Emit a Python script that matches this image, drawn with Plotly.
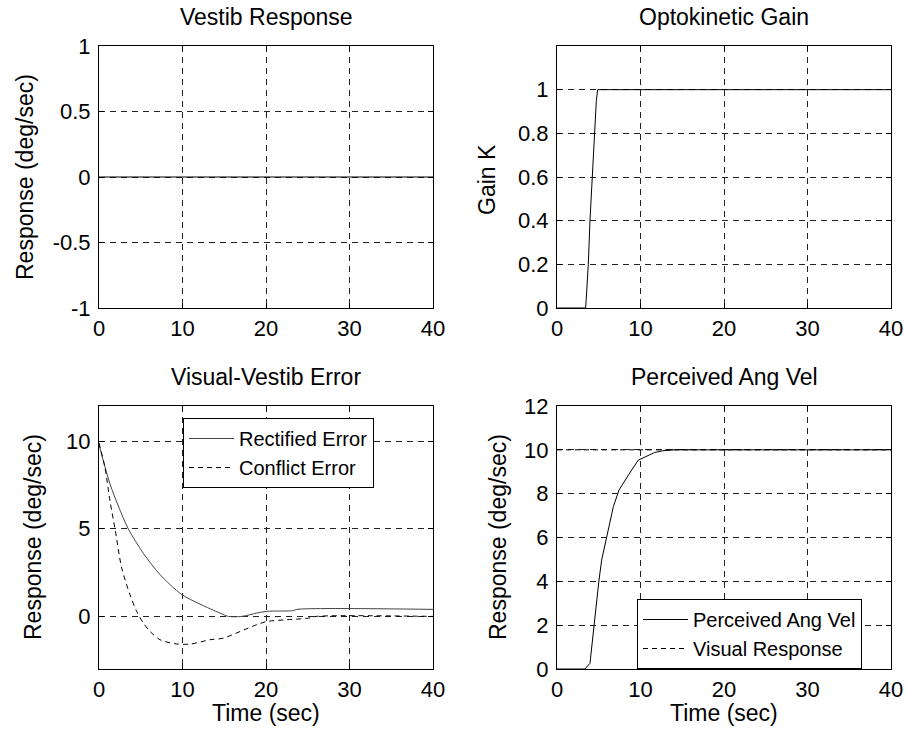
import plotly.graph_objects as go

# ---------------- data ----------------
vestib_t = [0, 40]
vestib_resp = [0, 0]

gain_t = [0, 3.43, 3.5, 3.75, 3.95, 4.23, 4.47, 4.71, 4.87, 40]
gain_k = [0, 0, 0.04, 0.2, 0.4, 0.6, 0.8, 0.95, 1.0, 1.0]

rect_t = [0, 1.32, 2.31, 3.51, 5.31, 7.31, 9.9, 12.1, 14.5, 15.5, 17.1, 18.9, 20.1, 23.3, 23.7, 40]
rect_err = [9.8, 7.55, 6.3, 4.99, 3.6, 2.38, 1.25, 0.7, 0.19, 0.0, 0.0, 0.19, 0.29, 0.33, 0.4, 0.4]

conf_t = [0, 0.72, 1.32, 1.92, 2.72, 3.71, 4.51, 5.31, 6.11, 7.31, 9.1, 10.9, 13.3, 14.9,
          16.9, 18.9, 20.1, 22.5, 25.1, 26, 40]
conf_err = [9.9, 8.47, 6.57, 4.99, 2.76, 1.24, 0.29, -0.38, -0.86, -1.33, -1.56, -1.58, -1.33, -1.24,
            -0.86, -0.47, -0.29, -0.19, -0.1, 0.0, 0.0]

perc_t = [0, 3.35, 3.95, 4.15, 4.43, 4.75, 5.03, 5.35, 5.95, 6.35, 6.75, 7.43, 8.14, 8.94,
          9.74, 11.7, 12.7, 14.1, 40]
perc_vel = [0, 0, 0.26, 1.02, 2.05, 3.15, 4.06, 4.97, 6.04, 6.65, 7.41, 8.17, 8.62, 9.08,
            9.53, 9.88, 9.96, 10.0, 10.0]

visual_t = [0, 40]
visual_resp = [10, 10]

titles = ["Vestib Response", "Optokinetic Gain", "Visual-Vestib Error", "Perceived Ang Vel"]
ylabels = ["Response (deg/sec)", "Gain K", "Response (deg/sec)", "Response (deg/sec)"]
xlabel = "Time (sec)"

x_ticks = [0, 10, 20, 30, 40]
x_ticktext = ["0", "10", "20", "30", "40"]
y1_ticks = [-1, -0.5, 0, 0.5, 1]
y1_ticktext = ["-1", "-0.5", "0", "0.5", "1"]
y2_ticks = [0, 0.2, 0.4, 0.6, 0.8, 1]
y2_ticktext = ["0", "0.2", "0.4", "0.6", "0.8", "1"]
y3_ticks = [0, 5, 10]
y3_ticktext = ["0", "5", "10"]
y4_ticks = [0, 2, 4, 6, 8, 10, 12]
y4_ticktext = ["0", "2", "4", "6", "8", "10", "12"]

# ---------------- figure ----------------
W, H = 906, 736
FONT = "Liberation Sans, Arial, sans-serif"
FS_TICK = 22
FS_LAB = 23
FS_LEG = 20

fig = go.Figure()

fig.add_trace(go.Scatter(x=vestib_t, y=vestib_resp, mode="lines",
                         line=dict(color="black", width=1), showlegend=False,
                         xaxis="x", yaxis="y"))
fig.add_trace(go.Scatter(x=gain_t, y=gain_k, mode="lines",
                         line=dict(color="black", width=1), showlegend=False,
                         xaxis="x2", yaxis="y2"))
fig.add_trace(go.Scatter(x=rect_t, y=rect_err, mode="lines", name="Rectified Error",
                         line=dict(color="#444", width=1, shape="spline", smoothing=0.8),
                         legend="legend", xaxis="x3", yaxis="y3"))
fig.add_trace(go.Scatter(x=conf_t, y=conf_err, mode="lines", name="Conflict Error",
                         line=dict(color="black", width=1, dash="5px,4px", shape="spline", smoothing=0.8),
                         legend="legend", xaxis="x3", yaxis="y3"))
fig.add_trace(go.Scatter(x=perc_t, y=perc_vel, mode="lines", name="Perceived Ang Vel",
                         line=dict(color="black", width=1), legend="legend2",
                         xaxis="x4", yaxis="y4"))
fig.add_trace(go.Scatter(x=visual_t, y=visual_resp, mode="lines", name="Visual Response",
                         line=dict(color="black", width=1, dash="5px,4px"), legend="legend2",
                         xaxis="x4", yaxis="y4"))


def px_x(p):
    return p / W


def px_y(p):
    return 1 - p / H


common = dict(showline=True, linecolor="black", linewidth=1, mirror="ticks",
              ticks="inside", ticklen=5, tickcolor="black", tickwidth=1,
              showgrid=True, gridcolor="#222", gridwidth=1, griddash="6px,5px",
              zeroline=False, tickfont=dict(family=FONT, size=FS_TICK, color="black"),
              tickmode="array", fixedrange=True, automargin=False)

left_dom = [px_x(99), px_x(433)]
right_dom = [px_x(557), px_x(891)]
top_dom = [px_y(308), px_y(46)]
bot_dom = [px_y(669), px_y(406)]

XSO = 1
YSO = 3

fig.update_layout(
    width=W, height=H,
    margin=dict(l=0, r=0, t=0, b=0, autoexpand=False),
    paper_bgcolor="white", plot_bgcolor="white",
    font=dict(family=FONT, size=FS_TICK, color="black"),
    xaxis=dict(domain=left_dom, range=[0, 40], tickvals=x_ticks, ticktext=x_ticktext,
               anchor="y", ticklabelstandoff=XSO, **common),
    yaxis=dict(domain=top_dom, range=[-1, 1], tickvals=y1_ticks, ticktext=y1_ticktext,
               anchor="x", ticklabelstandoff=YSO, **common),
    xaxis2=dict(domain=right_dom, range=[0, 40], tickvals=x_ticks, ticktext=x_ticktext,
                anchor="y2", ticklabelstandoff=XSO, **common),
    yaxis2=dict(domain=top_dom, range=[0, 1.2], tickvals=y2_ticks, ticktext=y2_ticktext,
                anchor="x2", ticklabelstandoff=YSO, **common),
    xaxis3=dict(domain=left_dom, range=[0, 40], tickvals=x_ticks, ticktext=x_ticktext,
                anchor="y3", ticklabelstandoff=XSO, **common),
    yaxis3=dict(domain=bot_dom, range=[-3, 12], tickvals=y3_ticks, ticktext=y3_ticktext,
                anchor="x3", ticklabelstandoff=YSO, **common),
    xaxis4=dict(domain=right_dom, range=[0, 40], tickvals=x_ticks, ticktext=x_ticktext,
                anchor="y4", ticklabelstandoff=XSO, **common),
    yaxis4=dict(domain=bot_dom, range=[0, 12], tickvals=y4_ticks, ticktext=y4_ticktext,
                anchor="x4", ticklabelstandoff=YSO, **common),
    legend=dict(x=px_x(183), y=px_y(418), xanchor="left", yanchor="top",
                bgcolor="white", bordercolor="black", borderwidth=1, itemwidth=45,
                font=dict(family=FONT, size=FS_LEG, color="black"), tracegroupgap=0),
    legend2=dict(x=px_x(637), y=px_y(599), xanchor="left", yanchor="top",
                 bgcolor="white", bordercolor="black", borderwidth=1, itemwidth=45,
                 font=dict(family=FONT, size=FS_LEG, color="black"), tracegroupgap=0),
)

annos = []
# titles
for txt, cx, cy in [(titles[0], 266, 17), (titles[1], 724, 17),
                    (titles[2], 266, 377), (titles[3], 724, 377)]:
    annos.append(dict(text=txt, x=px_x(cx), y=px_y(cy), xref="paper", yref="paper",
                      xanchor="center", yanchor="middle", showarrow=False,
                      font=dict(family=FONT, size=FS_LAB, color="black")))
# y labels
for txt, cx, cy in [(ylabels[0], 25, 177), (ylabels[1], 487, 180),
                    (ylabels[2], 33, 537), (ylabels[3], 498, 537)]:
    annos.append(dict(text=txt, x=px_x(cx), y=px_y(cy), xref="paper", yref="paper",
                      xanchor="center", yanchor="middle", showarrow=False, textangle=-90,
                      font=dict(family=FONT, size=FS_LAB, color="black")))
# x labels
for cx in [266, 724]:
    annos.append(dict(text=xlabel, x=px_x(cx), y=px_y(713), xref="paper", yref="paper",
                      xanchor="center", yanchor="middle", showarrow=False,
                      font=dict(family=FONT, size=FS_LAB, color="black")))
fig.update_layout(annotations=annos)

fig.write_html("out.html", config={"displayModeBar": False},
               post_script="document.body.style.margin='0';document.body.style.overflow='hidden';")
